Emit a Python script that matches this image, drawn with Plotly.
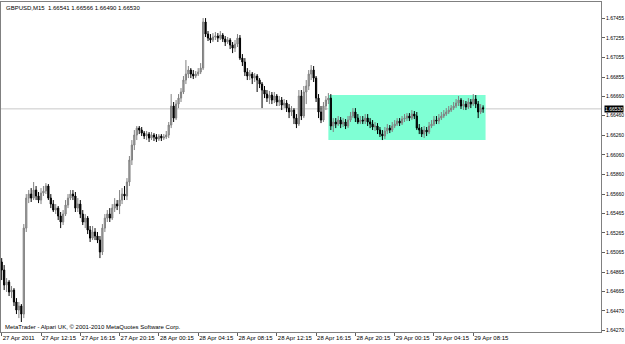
import pandas as pd
import plotly.graph_objects as go

# ---------------- data ----------------
times = pd.date_range("2011-04-27 08:15", periods=197, freq="15min")

opens = [
    1.64968, 1.64886, 1.64733, 1.64764, 1.64662, 1.64682, 1.64560, 1.64478, 1.64519, 1.64437,
    1.65314, 1.65620, 1.65661, 1.65620, 1.65702, 1.65641, 1.65600, 1.65671, 1.65692, 1.65743,
    1.65620, 1.65559, 1.65498, 1.65518, 1.65437, 1.65376, 1.65457, 1.65549, 1.65620, 1.65661,
    1.65641, 1.65518, 1.65559, 1.65457, 1.65376, 1.65416, 1.65294, 1.65212, 1.65274, 1.65233,
    1.65192, 1.65070, 1.65314, 1.65416, 1.65457, 1.65416, 1.65518, 1.65559, 1.65539, 1.65600,
    1.65661, 1.65641, 1.65784, 1.66008, 1.66161, 1.66263, 1.66334, 1.66314, 1.66283, 1.66253,
    1.66273, 1.66232, 1.66263, 1.66243, 1.66222, 1.66253, 1.66232, 1.66243, 1.66263, 1.66365,
    1.66559, 1.66436, 1.66579, 1.66640, 1.66702, 1.66824, 1.66885, 1.66926, 1.66885, 1.66865,
    1.66885, 1.66906, 1.66946, 1.67416, 1.67293, 1.67252, 1.67232, 1.67263, 1.67273, 1.67252,
    1.67283, 1.67242, 1.67212, 1.67232, 1.67181, 1.67150, 1.67191, 1.67252, 1.67048, 1.67008,
    1.66906, 1.66865, 1.66885, 1.66844, 1.66865, 1.66824, 1.66783, 1.66722, 1.66681, 1.66640,
    1.66671, 1.66620, 1.66661, 1.66600, 1.66620, 1.66569, 1.66589, 1.66538, 1.66498, 1.66518,
    1.66436, 1.66375, 1.66661, 1.66457, 1.66702, 1.66763, 1.66885, 1.66926, 1.66844, 1.66640,
    1.66498, 1.66416, 1.66559, 1.66620, 1.66640, 1.66355, 1.66396, 1.66375, 1.66416, 1.66375,
    1.66396, 1.66355, 1.66416, 1.66457, 1.66498, 1.66436, 1.66396, 1.66416, 1.66406, 1.66436,
    1.66396, 1.66375, 1.66345, 1.66355, 1.66314, 1.66273, 1.66253, 1.66304, 1.66334, 1.66314,
    1.66355, 1.66375, 1.66406, 1.66385, 1.66426, 1.66436, 1.66457, 1.66436, 1.66477, 1.66457,
    1.66334, 1.66314, 1.66273, 1.66314, 1.66294, 1.66355, 1.66375, 1.66416, 1.66406, 1.66436,
    1.66457, 1.66477, 1.66498, 1.66518, 1.66538, 1.66559, 1.66589, 1.66620, 1.66559, 1.66579,
    1.66549, 1.66600, 1.66579, 1.66630, 1.66579, 1.66498, 1.66541,
]
highs = [
    1.65008, 1.64937, 1.64804, 1.64784, 1.64723, 1.64702, 1.64600, 1.64560, 1.64539, 1.65355,
    1.65661, 1.65702, 1.65722, 1.65784, 1.65743, 1.65682, 1.65722, 1.65743, 1.65773, 1.65763,
    1.65661, 1.65600, 1.65559, 1.65539, 1.65478, 1.65498, 1.65600, 1.65661, 1.65702, 1.65702,
    1.65682, 1.65620, 1.65600, 1.65498, 1.65457, 1.65437, 1.65335, 1.65335, 1.65314, 1.65274,
    1.65233, 1.65355, 1.65457, 1.65498, 1.65518, 1.65559, 1.65620, 1.65600, 1.65702, 1.65722,
    1.65743, 1.65824, 1.66049, 1.66212, 1.66314, 1.66355, 1.66355, 1.66345, 1.66304, 1.66304,
    1.66294, 1.66294, 1.66283, 1.66273, 1.66273, 1.66273, 1.66273, 1.66304, 1.66396, 1.66681,
    1.66600, 1.66620, 1.66681, 1.66742, 1.66865, 1.67028, 1.66967, 1.66946, 1.66926, 1.66916,
    1.66946, 1.66997, 1.67456, 1.67456, 1.67324, 1.67293, 1.67303, 1.67314, 1.67303, 1.67324,
    1.67303, 1.67273, 1.67263, 1.67252, 1.67212, 1.67232, 1.67293, 1.67283, 1.67089, 1.67048,
    1.66946, 1.66926, 1.66906, 1.66895, 1.66885, 1.66844, 1.66804, 1.66763, 1.66722, 1.66712,
    1.66702, 1.66702, 1.66681, 1.66661, 1.66651, 1.66630, 1.66620, 1.66579, 1.66559, 1.66538,
    1.66477, 1.66722, 1.66722, 1.66763, 1.66824, 1.66926, 1.66977, 1.66967, 1.66865, 1.66681,
    1.66559, 1.66600, 1.66661, 1.66691, 1.66681, 1.66436, 1.66436, 1.66457, 1.66447, 1.66436,
    1.66426, 1.66457, 1.66498, 1.66538, 1.66538, 1.66477, 1.66457, 1.66457, 1.66477, 1.66477,
    1.66436, 1.66416, 1.66396, 1.66385, 1.66345, 1.66314, 1.66345, 1.66375, 1.66365, 1.66396,
    1.66416, 1.66436, 1.66436, 1.66457, 1.66477, 1.66487, 1.66487, 1.66518, 1.66508, 1.66498,
    1.66375, 1.66345, 1.66355, 1.66345, 1.66396, 1.66416, 1.66457, 1.66457, 1.66477, 1.66498,
    1.66518, 1.66538, 1.66559, 1.66569, 1.66600, 1.66630, 1.66661, 1.66640, 1.66620, 1.66610,
    1.66640, 1.66630, 1.66681, 1.66671, 1.66610, 1.66579, 1.66566,
]
lows = [
    1.64784, 1.64682, 1.64662, 1.64621, 1.64600, 1.64519, 1.64437, 1.64396, 1.64356, 1.64396,
    1.65274, 1.65569, 1.65580, 1.65600, 1.65600, 1.65569, 1.65559, 1.65641, 1.65661, 1.65600,
    1.65518, 1.65478, 1.65457, 1.65396, 1.65314, 1.65345, 1.65437, 1.65518, 1.65600, 1.65600,
    1.65478, 1.65478, 1.65416, 1.65345, 1.65314, 1.65253, 1.65172, 1.65192, 1.65192, 1.65161,
    1.65008, 1.65039, 1.65274, 1.65376, 1.65376, 1.65396, 1.65478, 1.65498, 1.65457, 1.65559,
    1.65600, 1.65600, 1.65743, 1.65957, 1.66110, 1.66212, 1.66273, 1.66253, 1.66222, 1.66212,
    1.66192, 1.66212, 1.66202, 1.66192, 1.66202, 1.66202, 1.66212, 1.66222, 1.66232, 1.66334,
    1.66396, 1.66416, 1.66538, 1.66600, 1.66681, 1.66783, 1.66844, 1.66844, 1.66834, 1.66844,
    1.66865, 1.66885, 1.66926, 1.67263, 1.67222, 1.67201, 1.67212, 1.67232, 1.67212, 1.67232,
    1.67212, 1.67171, 1.67191, 1.67140, 1.67099, 1.67110, 1.67161, 1.67028, 1.66967, 1.66865,
    1.66824, 1.66824, 1.66783, 1.66804, 1.66702, 1.66742, 1.66538, 1.66640, 1.66600, 1.66579,
    1.66579, 1.66589, 1.66559, 1.66559, 1.66518, 1.66538, 1.66498, 1.66436, 1.66457, 1.66375,
    1.66334, 1.66355, 1.66416, 1.66436, 1.66579, 1.66722, 1.66824, 1.66804, 1.66600, 1.66436,
    1.66385, 1.66396, 1.66518, 1.66579, 1.66314, 1.66294, 1.66334, 1.66355, 1.66334, 1.66345,
    1.66324, 1.66334, 1.66396, 1.66436, 1.66396, 1.66375, 1.66375, 1.66375, 1.66375, 1.66355,
    1.66334, 1.66314, 1.66304, 1.66273, 1.66243, 1.66212, 1.66222, 1.66273, 1.66283, 1.66294,
    1.66334, 1.66355, 1.66355, 1.66365, 1.66396, 1.66406, 1.66406, 1.66416, 1.66426, 1.66314,
    1.66273, 1.66243, 1.66232, 1.66253, 1.66273, 1.66334, 1.66355, 1.66375, 1.66375, 1.66416,
    1.66436, 1.66457, 1.66477, 1.66498, 1.66518, 1.66538, 1.66559, 1.66528, 1.66518, 1.66518,
    1.66528, 1.66538, 1.66559, 1.66538, 1.66436, 1.66477, 1.66490,
]
closes = [
    1.64886, 1.64733, 1.64764, 1.64662, 1.64682, 1.64560, 1.64478, 1.64519, 1.64437, 1.65314,
    1.65620, 1.65661, 1.65620, 1.65702, 1.65641, 1.65600, 1.65671, 1.65692, 1.65743, 1.65620,
    1.65559, 1.65498, 1.65518, 1.65437, 1.65376, 1.65457, 1.65549, 1.65620, 1.65661, 1.65641,
    1.65518, 1.65559, 1.65457, 1.65376, 1.65416, 1.65294, 1.65212, 1.65274, 1.65233, 1.65192,
    1.65070, 1.65314, 1.65416, 1.65457, 1.65416, 1.65518, 1.65559, 1.65539, 1.65600, 1.65661,
    1.65641, 1.65784, 1.66008, 1.66161, 1.66263, 1.66334, 1.66314, 1.66283, 1.66253, 1.66273,
    1.66232, 1.66263, 1.66243, 1.66222, 1.66253, 1.66232, 1.66243, 1.66263, 1.66365, 1.66559,
    1.66436, 1.66579, 1.66640, 1.66702, 1.66824, 1.66885, 1.66926, 1.66885, 1.66865, 1.66885,
    1.66906, 1.66946, 1.67416, 1.67293, 1.67252, 1.67232, 1.67263, 1.67273, 1.67252, 1.67283,
    1.67242, 1.67212, 1.67232, 1.67181, 1.67150, 1.67191, 1.67252, 1.67048, 1.67008, 1.66906,
    1.66865, 1.66885, 1.66844, 1.66865, 1.66824, 1.66783, 1.66722, 1.66681, 1.66640, 1.66671,
    1.66620, 1.66661, 1.66600, 1.66620, 1.66569, 1.66589, 1.66538, 1.66498, 1.66518, 1.66436,
    1.66375, 1.66661, 1.66457, 1.66702, 1.66763, 1.66885, 1.66926, 1.66844, 1.66640, 1.66498,
    1.66416, 1.66559, 1.66620, 1.66640, 1.66355, 1.66396, 1.66375, 1.66416, 1.66375, 1.66396,
    1.66355, 1.66416, 1.66457, 1.66498, 1.66436, 1.66396, 1.66416, 1.66406, 1.66436, 1.66396,
    1.66375, 1.66345, 1.66355, 1.66314, 1.66273, 1.66253, 1.66304, 1.66334, 1.66314, 1.66355,
    1.66375, 1.66406, 1.66385, 1.66426, 1.66436, 1.66457, 1.66436, 1.66477, 1.66457, 1.66334,
    1.66314, 1.66273, 1.66314, 1.66294, 1.66355, 1.66375, 1.66416, 1.66406, 1.66436, 1.66457,
    1.66477, 1.66498, 1.66518, 1.66538, 1.66559, 1.66589, 1.66620, 1.66559, 1.66579, 1.66549,
    1.66600, 1.66579, 1.66630, 1.66579, 1.66498, 1.66538, 1.66530,
]

x_tick_times = pd.date_range("2011-04-27 08:15", periods=13, freq="4h")
x_tick_labels = [
    "27 Apr 2011", "27 Apr 12:15", "27 Apr 16:15", "27 Apr 20:15",
    "28 Apr 00:15", "28 Apr 04:15", "28 Apr 08:15", "28 Apr 12:15",
    "28 Apr 16:15", "28 Apr 20:15", "29 Apr 00:15", "29 Apr 04:15", "29 Apr 08:15",
]
y_tick_values = [1.67455, 1.67255, 1.67055, 1.66855, 1.66660, 1.66460, 1.66260, 1.66060,
                 1.65860, 1.65660, 1.65465, 1.65265, 1.65065, 1.64865, 1.64665, 1.64470, 1.64270]
y_tick_labels = ["%.5f" % v for v in y_tick_values]

bid_price = 1.66530
rect_start, rect_end = "2011-04-28 17:30", "2011-04-29 09:30"
rect_low, rect_high = 1.66212, 1.66671
x_range = ["2011-04-27 08:10:44", "2011-04-29 21:15"]
y_range = [1.64254, 1.67620]

title_text = "GBPUSD,M15  1.66541 1.66566 1.66490 1.66530"
credit_text = "MetaTrader - Alpari UK, \u00a9 2001-2010 MetaQuotes Software Corp."

# ---------------- figure ----------------
FONT = "Liberation Sans, Arial, sans-serif"

fig = go.Figure(go.Candlestick(
    x=times, open=opens, high=highs, low=lows, close=closes,
    increasing=dict(line=dict(color="#808080", width=1), fillcolor="#a8a8a8"),
    decreasing=dict(line=dict(color="#000000", width=1), fillcolor="#000000"),
    whiskerwidth=0, hoverinfo="skip", showlegend=False,
))

fig.add_shape(type="rect", xref="x", yref="y", x0=rect_start, x1=rect_end,
              y0=rect_low, y1=rect_high, fillcolor="#7fffd4", line=dict(width=0),
              layer="below")
fig.add_shape(type="line", xref="paper", yref="y", x0=0, x1=1, y0=bid_price, y1=bid_price,
              line=dict(color="#c8c8c8", width=1), layer="below")

fig.add_annotation(text=title_text, xref="paper", yref="paper", x=0, y=1,
                   xanchor="left", yanchor="top", xshift=3, yshift=-1, showarrow=False,
                   font=dict(family=FONT, size=6, color="#000000"))
fig.add_annotation(text=credit_text, xref="paper", yref="paper", x=0, y=0,
                   xanchor="left", yanchor="bottom", xshift=2, yshift=0, showarrow=False,
                   font=dict(family=FONT, size=6, color="#000000"))
fig.add_annotation(text="%.5f" % bid_price, xref="paper", yref="y", x=1, y=bid_price,
                   xanchor="left", yanchor="middle", xshift=3, showarrow=False,
                   bgcolor="#000000", borderpad=0,
                   font=dict(family=FONT, size=5, color="#ffffff"))

fig.update_layout(
    template="none",
    width=625, height=344,
    margin=dict(l=1, r=24, t=2, b=12, pad=0),
    paper_bgcolor="#ffffff", plot_bgcolor="#ffffff",
    showlegend=False,
    font=dict(family=FONT, size=6, color="#000000"),
    xaxis=dict(
        type="date", range=x_range, rangeslider=dict(visible=False),
        tickvals=list(x_tick_times), ticktext=x_tick_labels, tickangle=0,
        ticks="outside", ticklen=3, tickwidth=1, tickcolor="#606060",
        ticklabelposition="outside right", ticklabelstandoff=0,
        showline=True, linecolor="#808080", linewidth=1, mirror=True,
        showgrid=False, zeroline=False, automargin=False,
        tickfont=dict(family=FONT, size=6, color="#000000"),
    ),
    yaxis=dict(
        side="right", range=y_range,
        tickvals=y_tick_values, ticktext=y_tick_labels, tickangle=0,
        ticks="outside", ticklen=3, tickwidth=1, tickcolor="#606060",
        ticklabelstandoff=0, ticklabeloverflow="allow",
        showline=True, linecolor="#808080", linewidth=1, mirror=True,
        showgrid=False, zeroline=False, automargin=False,
        tickfont=dict(family=FONT, size=5, color="#000000"),
    ),
)

fig.write_html("out.html")
